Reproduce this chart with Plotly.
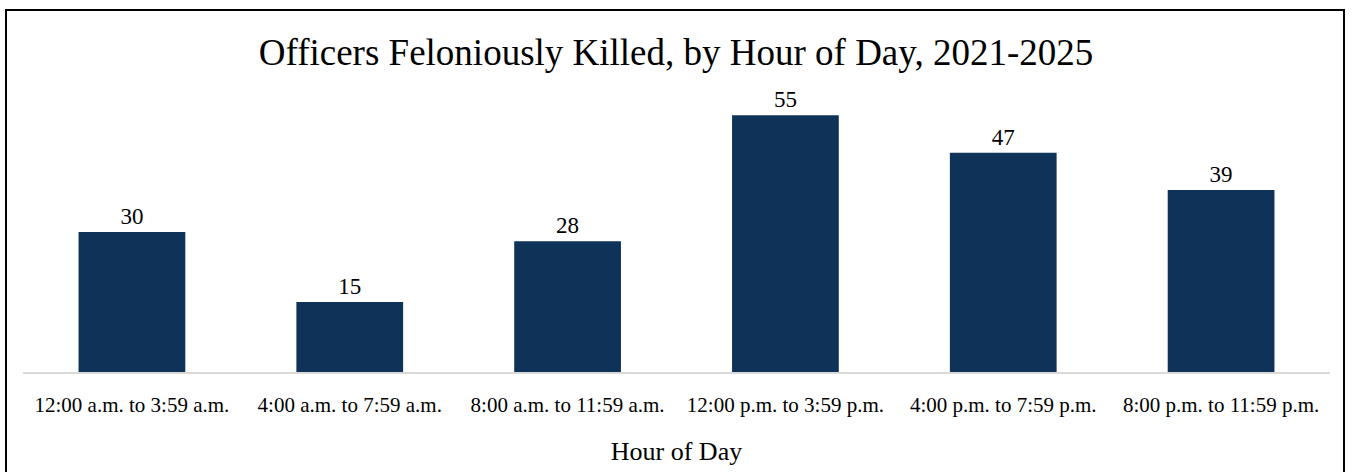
import plotly.graph_objects as go

categories = ["12:00 a.m. to 3:59 a.m.", "4:00 a.m. to 7:59 a.m.", "8:00 a.m. to 11:59 a.m.",
              "12:00 p.m. to 3:59 p.m.", "4:00 p.m. to 7:59 p.m.", "8:00 p.m. to 11:59 p.m."]
values = [30, 15, 28, 55, 47, 39]

SERIF = "Liberation Serif, Times New Roman, serif"

fig = go.Figure(go.Bar(
    x=categories, y=values,
    marker=dict(color="#0f3259", line=dict(width=0)),
    text=values, textposition="outside", cliponaxis=False,
    textfont=dict(family=SERIF, size=23, color="black"),
    width=0.49,
))

fig.update_layout(
    width=1352, height=472,
    margin=dict(l=23, r=22, t=92, b=100),
    paper_bgcolor="white", plot_bgcolor="white",
    title=dict(text="Officers Feloniously Killed, by Hour of Day, 2021-2025",
               font=dict(family=SERIF, size=37, color="black"),
               x=0.5, xanchor="center", y=1 - 52/472, yanchor="middle"),
    xaxis=dict(showline=True, linecolor="#d9d9d9", linewidth=2, ticks="",
               ticklabelstandoff=13,
               tickfont=dict(family=SERIF, size=21, color="black"),
               title=dict(text="Hour of Day", font=dict(family=SERIF, size=26, color="black"), standoff=26)),
    yaxis=dict(range=[0, 60], visible=False, showgrid=False),
    showlegend=False,
    shapes=[dict(type="rect", xref="paper", yref="paper",
                 x0=(6-23)/1307, x1=(1344-23)/1307, y0=-0.6, y1=(372-10)/280,
                 line=dict(color="black", width=2), layer="above")],
)

fig.write_html("out.html", config={"displayModeBar": False},
               post_script="document.body.style.margin='0';document.body.style.overflow='hidden';")
